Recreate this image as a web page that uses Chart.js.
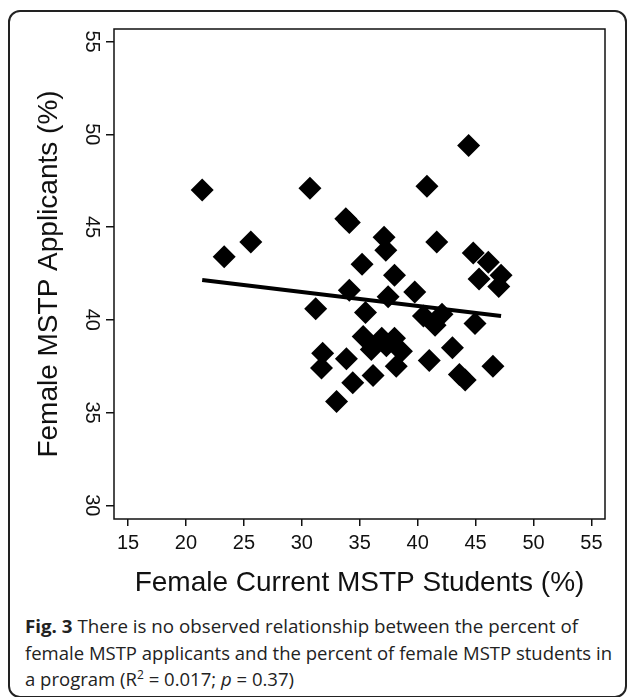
<!DOCTYPE html>
<html>
<head>
<meta charset="utf-8">
<script src="https://cdn.jsdelivr.net/npm/chart.js@4.4.0/dist/chart.umd.min.js"></script>
<style>
  body { margin: 0; background: #fff; width: 629px; height: 697px; overflow: hidden; position: relative; }
  #frame { position: absolute; left: 8px; top: 10px; width: 619px; height: 688px; border: 2px solid #222; border-radius: 12px; box-sizing: border-box; }
  #wrap { position: absolute; left: 0; top: 0; width: 629px; height: 600px; }
  #caption { position: absolute; left: 25px; top: 613px; font-family: "Open Sans", sans-serif; font-size: 18.5px; line-height: 26.7px; color: #222; }
  .line { display: block; width: max-content; white-space: nowrap; transform-origin: left center; }
  .sup { position: relative; top: -7px; font-size: 12px; line-height: 0; }
</style>
</head>
<body>
<div id="frame"></div>
<div id="wrap"><canvas id="scatter-chart" width="629" height="600"></canvas></div>
<div id="caption">
  <div class="line" data-w="553"><b>Fig. 3</b> There is no observed relationship between the percent of</div>
  <div class="line" data-w="587">female MSTP applicants and the percent of female MSTP students in</div>
  <div class="line" data-w="269">a program (R<span class="sup">2</span> = 0.017; <i>p</i> = 0.37)</div>
</div>
<script>
// one value per program
const studentsPct = [21.4, 23.3, 25.6, 30.7, 33.8, 34.1, 40.8, 44.4, 37.1, 37.25,
  41.65, 35.2, 44.8, 46.1, 47.2, 45.3, 47.0, 38.0, 39.75, 34.1,
  37.45, 31.2, 35.5, 40.5, 42.1, 41.5, 44.95, 35.3, 36.9, 38.0,
  36.0, 38.6, 37.3, 38.15, 31.8, 31.7, 33.85, 41.0, 43.0, 43.6,
  44.1, 46.5, 36.15, 34.4, 33.0];
const applicantsPct = [47.0, 43.4, 44.2, 47.1, 45.45, 45.25, 47.2, 49.4, 44.45, 43.75,
  44.2, 43.0, 43.6, 43.1, 42.4, 42.2, 41.8, 42.4, 41.5, 41.6,
  41.25, 40.6, 40.4, 40.2, 40.3, 39.7, 39.8, 39.1, 39.0, 39.0,
  38.4, 38.3, 38.6, 37.5, 38.2, 37.4, 37.9, 37.8, 38.5, 37.05,
  36.75, 37.5, 37.0, 36.6, 35.6];
// fitted line ends
const fitX = [21.4, 47.2];
const fitY = [42.15, 40.2];
const xTicks = [15, 20, 25, 30, 35, 40, 45, 50, 55];
const yTicks = [30, 35, 40, 45, 50, 55];

const ink = '#111';
const axisFont = 'Liberation Sans, Arial, sans-serif';

const boxPlugin = {
  id: 'box',
  afterDatasetsDraw(chart) {
    const a = chart.chartArea, ctx = chart.ctx;
    ctx.save();
    ctx.strokeStyle = ink;
    ctx.lineWidth = 1.5;
    ctx.strokeRect(a.left, a.top, a.right - a.left, a.bottom - a.top);
    ctx.restore();
  }
};

const scatterchart = document.getElementById('scatter-chart');

new Chart(scatterchart, {
  type: 'scatter',
  data: {
    datasets: [{
      label: 'Programs',
      data: studentsPct.map((x, i) => ({x: x, y: applicantsPct[i]})),
      pointStyle: 'rectRot',
      pointRadius: 11.5,
      backgroundColor: '#000',
      borderWidth: 0
    }, {
      label: 'Fit',
      data: fitX.map((x, i) => ({x: x, y: fitY[i]})),
      showLine: true,
      pointRadius: 0,
      borderColor: '#000',
      borderWidth: 4
    }]
  },
  options: {
    responsive: false,
    animation: false,
    layout: { padding: { left: 0, top: 29, right: 24, bottom: 0 } },
    plugins: { legend: { display: false }, tooltip: { enabled: false } },
    scales: {
      x: {
        type: 'linear',
        min: 13.79,
        max: 56.17,
        afterBuildTicks: s => { s.ticks = xTicks.map(v => ({value: v})); },
        afterFit: s => { s.height = 81; },
        border: { display: false },
        grid: { drawOnChartArea: false, tickLength: 7, color: ink, lineWidth: 1.5 },
        ticks: { color: ink, font: { family: axisFont, size: 20 }, padding: 5, maxRotation: 0, autoSkip: false },
        title: { display: true, text: 'Female Current MSTP Students (%)', color: ink,
                 font: { family: axisFont, size: 28 }, padding: { top: 0, bottom: 0 } }
      },
      y: {
        type: 'linear',
        min: 29.26,
        max: 55.68,
        afterBuildTicks: s => { s.ticks = yTicks.map(v => ({value: v})); },
        afterFit: s => { s.width = 114; },
        border: { display: false },
        grid: { drawOnChartArea: false, tickLength: 8, color: ink, lineWidth: 1.5 },
        ticks: { color: ink, font: { family: axisFont, size: 20 }, padding: 3, minRotation: -90, maxRotation: -90,
                 crossAlign: 'center', autoSkip: false },
        title: { display: true, text: 'Female MSTP Applicants (%)', color: ink,
                 font: { family: axisFont, size: 28 }, padding: { top: 32, bottom: 0 } }
      }
    }
  },
  plugins: [boxPlugin]
});

// squeeze caption lines to the widths in the figure
document.fonts.ready.then(() => {
  document.querySelectorAll('#caption .line').forEach(el => {
    const w = el.getBoundingClientRect().width;
    el.style.transform = 'scaleX(' + (Number(el.dataset.w) / w) + ')';
  });
});
</script>
</body>
</html>
